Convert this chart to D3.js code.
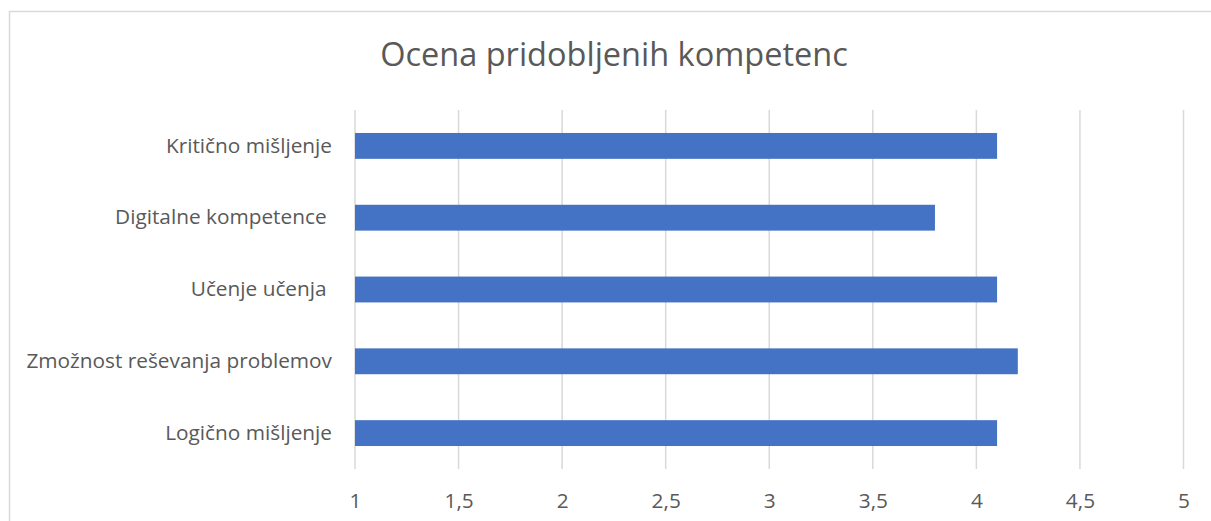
<!DOCTYPE html>
<html>
<head>
<meta charset="utf-8">
<script src="https://cdn.jsdelivr.net/npm/d3@7"></script>
<style>
  body { margin: 0; background: #fff; }
  text { font-family: "Open Sans", "Noto Sans", sans-serif; fill: #595959; }
</style>
</head>
<body>
<script>
// data (top to bottom)
var categories = ["Kritično mišljenje", "Digitalne kompetence ", "Učenje učenja ", "Zmožnost reševanja problemov", "Logično mišljenje"];
var values = [4.1, 3.8, 4.1, 4.2, 4.1];
var tickValues = [1, 1.5, 2, 2.5, 3, 3.5, 4, 4.5, 5];
var title = "Ocena pridobljenih kompetenc";

var w = 1211, h = 521;
var svg = d3.select("body").append("svg")
            .attr("width", w)
            .attr("height", h);

// chart frame
svg.append("rect")
   .attr("x", 9.5).attr("y", 11.5)
   .attr("width", 1230).attr("height", 540)
   .attr("fill", "none")
   .attr("stroke", "#d9d9d9")
   .attr("stroke-width", 1.5);

svg.append("text")
   .attr("x", 614).attr("y", 66)
   .attr("text-anchor", "middle")
   .style("font-size", "32.5px")
   .text(title);

var x = d3.scaleLinear().domain([1, 5]).range([355, 1183.5]);
var y = d3.scaleBand().domain(categories).range([110, 469])
          .paddingInner(0.64).paddingOuter(0.32);

var fmt = d3.formatLocale({decimal: ",", thousands: ".", grouping: [3], currency: ["", "€"]}).format("~g");

// vertical gridlines
svg.append("g")
   .selectAll("line")
   .data(tickValues)
   .enter()
   .append("line")
   .attr("x1", function(d) { return x(d); })
   .attr("x2", function(d) { return x(d); })
   .attr("y1", 110).attr("y2", 469)
   .attr("stroke", "#d9d9d9")
   .attr("stroke-width", 1.5);

// bars
svg.append("g")
   .selectAll("rect")
   .data(values)
   .enter()
   .append("rect")
   .attr("x", x(1))
   .attr("y", function(d, i) { return y(categories[i]); })
   .attr("width", function(d) { return x(d) - x(1); })
   .attr("height", y.bandwidth())
   .attr("fill", "#4472c4");

// x axis labels
var xAxis = d3.axisBottom(x).tickValues(tickValues).tickFormat(fmt).tickSize(0).tickPadding(0);
var gx = svg.append("g").attr("transform", "translate(0,493)").call(xAxis);
gx.select(".domain").remove();
gx.selectAll("text").style("font-size", "20.8px").attr("fill", "#595959").attr("font-family", null);

// category labels
var yAxis = d3.axisLeft(y).tickSize(0).tickPadding(23);
var gy = svg.append("g").attr("transform", "translate(355,0)").call(yAxis);
gy.select(".domain").remove();
gy.selectAll("text").style("font-size", "20.8px").style("white-space", "pre").attr("fill", "#595959").attr("font-family", null);
</script>
</body>
</html>
